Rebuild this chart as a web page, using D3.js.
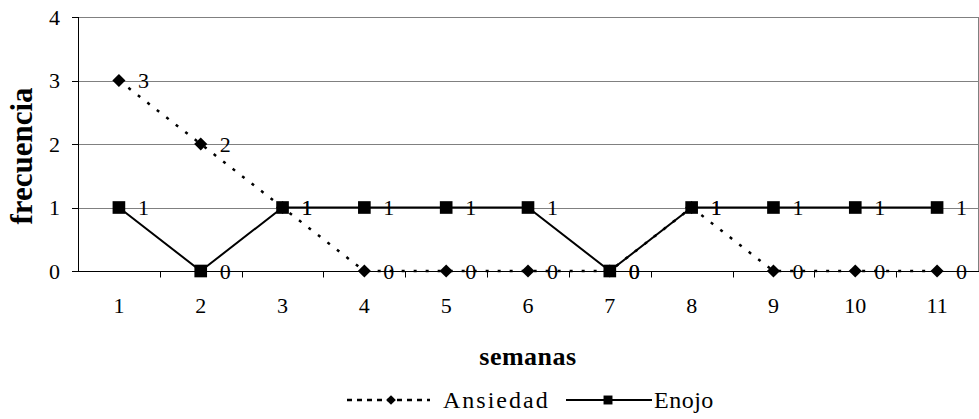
<!DOCTYPE html>
<html lang="es">
  <head>
    <meta charset="utf-8">
    <title>frecuencia por semanas</title>
    <style>
      body {margin: 0; background: #fff;}
      svg {display: block;}
      text {font-family: "Liberation Serif", "Times New Roman", serif; fill: #000;}
      .grid line {stroke: #808080; stroke-width: 1; shape-rendering: crispEdges;}
      .axis path, .axis line {stroke: #000; shape-rendering: crispEdges;}
      .axis text {font-size: 22px; font-family: "Liberation Serif", serif;}
      .lbl {font-size: 22px;}
    </style>
    <script src="https://d3js.org/d3.v7.min.js"></script>
  </head>
  <body>
    <script type="text/javascript">
      // data
      var semanas = ["1", "2", "3", "4", "5", "6", "7", "8", "9", "10", "11"];
      var ansiedad = [3, 2, 1, 0, 0, 0, 0, 1, 0, 0, 0];
      var enojo = [1, 0, 1, 1, 1, 1, 0, 1, 1, 1, 1];
      var yTicks = [0, 1, 2, 3, 4];

      // plot box (window.top is reserved, so prefixed names)
      var width = 979, height = 419;
      var pLeft = 78, pRight = 978, pTop = 17, pBottom = 271;

      var svg = d3.select("body").append("svg")
        .attr("width", width)
        .attr("height", height);

      var x = d3.scaleBand().domain(semanas).range([pLeft, pRight]);
      var y = d3.scaleLinear().domain([0, 4]).range([pBottom, pTop]);
      var y0 = Math.round(y(0)) + 0.5;

      // gridlines
      svg.append("g").attr("class", "grid")
        .selectAll("line")
        .data(yTicks.slice(1))
        .enter().append("line")
        .attr("x1", pLeft).attr("x2", pRight + 1)
        .attr("y1", function(d) { return Math.round(y(d)) + 0.5; })
        .attr("y2", function(d) { return Math.round(y(d)) + 0.5; });

      svg.append("line")
        .attr("x1", pRight + 0.5).attr("x2", pRight + 0.5)
        .attr("y1", pTop).attr("y2", y0)
        .attr("stroke", "#808080");

      // axes
      var yAxis = svg.append("g").attr("class", "axis")
        .attr("transform", "translate(" + pLeft + ",0)")
        .call(d3.axisLeft(y).tickValues(yTicks).tickSize(6).tickPadding(12).tickFormat(d3.format("d")));
      yAxis.select(".domain").attr("d", "M0.5," + pTop + "V" + y0);

      var xAxis = svg.append("g").attr("class", "axis")
        .attr("transform", "translate(0," + y0 + ")")
        .call(d3.axisBottom(x).tickSize(0).tickPadding(26));
      xAxis.select(".domain").attr("d", "M" + pLeft + ",0H" + (pRight + 1));
      xAxis.selectAll(".tick line").remove();

      // category boundary ticks
      svg.append("g").selectAll("line")
        .data(semanas.slice(1))
        .enter().append("line")
        .attr("x1", function(d) { return Math.round(x(d)) + 0.5; })
        .attr("x2", function(d) { return Math.round(x(d)) + 0.5; })
        .attr("y1", y0)
        .attr("y2", y0 + 6)
        .attr("stroke", "#000");

      // axis titles
      svg.append("text")
        .attr("x", (pLeft + pRight) / 2).attr("y", 365)
        .attr("text-anchor", "middle")
        .style("font-size", "26px").style("font-weight", "bold").style("letter-spacing", "0.5px")
        .text("semanas");

      svg.append("text")
        .attr("transform", "translate(32,156) rotate(-90)")
        .attr("text-anchor", "middle")
        .style("font-size", "31px").style("font-weight", "bold")
        .text("frecuencia");

      var cx = function(d, i) { return x(semanas[i]) + x.bandwidth() / 2; };
      var line = d3.line().x(cx).y(function(d) { return y(d); });

      // Ansiedad (dotted, diamonds)
      svg.append("path").datum(ansiedad)
        .attr("d", line)
        .attr("fill", "none").attr("stroke", "#000")
        .attr("stroke-width", 2.5).attr("stroke-dasharray", "3,9");

      // Enojo (solid, squares)
      svg.append("path").datum(enojo)
        .attr("d", line)
        .attr("fill", "none").attr("stroke", "#000").attr("stroke-width", 2);

      var diamond = d3.symbol().type(d3.symbolDiamond2).size(110);
      var square = d3.symbol().type(d3.symbolSquare).size(160);

      svg.append("g").selectAll("path")
        .data(ansiedad)
        .enter().append("path")
        .attr("d", diamond)
        .attr("transform", function(d, i) { return "translate(" + cx(d, i) + "," + y(d) + ")"; })
        .attr("fill", "#000");

      svg.append("g").selectAll("path")
        .data(enojo)
        .enter().append("path")
        .attr("d", square)
        .attr("transform", function(d, i) { return "translate(" + cx(d, i) + "," + y(d) + ")"; })
        .attr("fill", "#000");

      // data labels
      [ansiedad, enojo].forEach(function(series) {
        svg.append("g").selectAll("text")
          .data(series)
          .enter().append("text")
          .attr("class", "lbl")
          .attr("x", function(d, i) { return cx(d, i) + 19; })
          .attr("y", function(d) { return y(d) + 7.5; })
          .text(function(d) { return d; });
      });

      // legend
      var leg = svg.append("g");
      leg.append("line")
        .attr("x1", 347).attr("x2", 430).attr("y1", 400).attr("y2", 400)
        .attr("stroke", "#000").attr("stroke-width", 2.5).attr("stroke-dasharray", "5,5");
      leg.append("path").attr("d", d3.symbol().type(d3.symbolDiamond2).size(60))
        .attr("transform", "translate(391,400)");
      leg.append("text").attr("x", 443).attr("y", 408)
        .style("font-size", "24px").style("letter-spacing", "2px")
        .text("Ansiedad");

      leg.append("line")
        .attr("x1", 566).attr("x2", 652).attr("y1", 400).attr("y2", 400)
        .attr("stroke", "#000").attr("stroke-width", 2);
      leg.append("path").attr("d", d3.symbol().type(d3.symbolSquare).size(80))
        .attr("transform", "translate(608,400)");
      leg.append("text").attr("x", 654).attr("y", 408)
        .style("font-size", "24px").style("letter-spacing", "0.5px")
        .text("Enojo");
    </script>
  </body>
</html>
